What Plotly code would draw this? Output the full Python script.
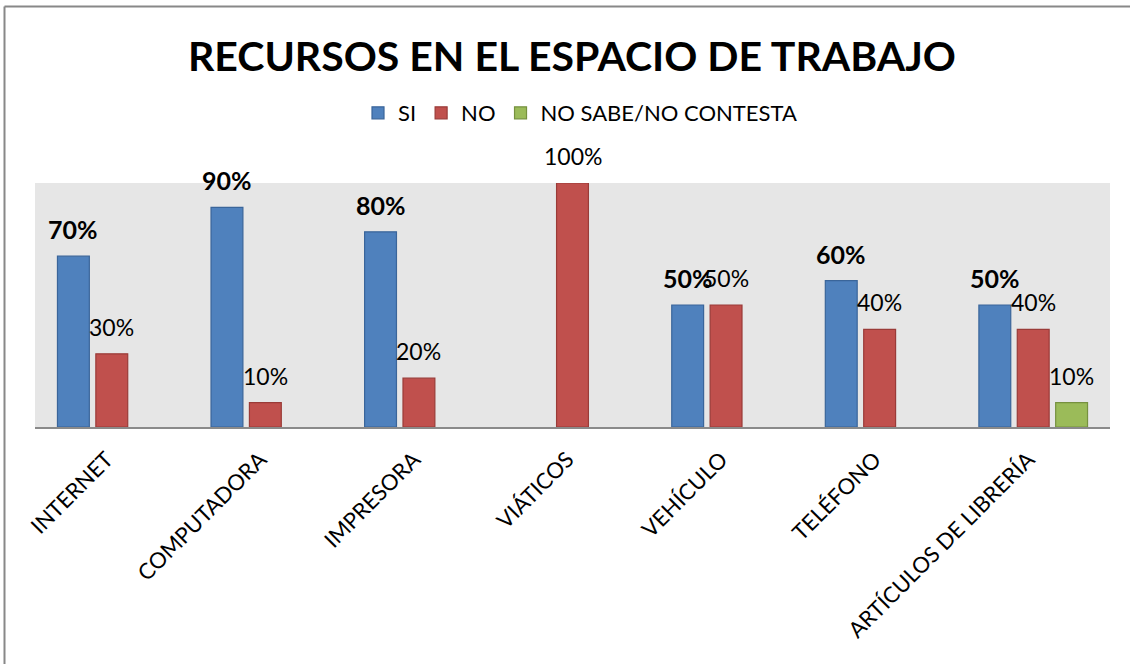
import plotly.graph_objects as go

categories = ["INTERNET", "COMPUTADORA", "IMPRESORA", "VIÁTICOS", "VEHÍCULO", "TELÉFONO", "ARTÍCULOS DE LIBRERÍA"]
si_values = [70, 90, 80, None, 50, 60, 50]
no_values = [30, 10, 20, 100, 50, 40, 40]
ns_values = [None, None, None, None, None, None, 10]
series_names = ["SI", "NO", "NO SABE/NO CONTESTA"]

W, H = 1130, 664
ML, MR, MT, MB = 35, 20, 183, 237
PW = W - ML - MR
PH = H - MT - MB

def px_x(p):
    return (p - ML) / PW

def px_y(p):
    return (H - MB - p) / PH

FONT = "Lato"
colors = ["#4F81BD", "#C0504D", "#9BBB59"]
edges = ["#3A659A", "#9A3B38", "#76913F"]
all_values = [si_values, no_values, ns_values]

fig = go.Figure()
for name, vals, c, e in zip(series_names, all_values, colors, edges):
    fig.add_trace(go.Bar(
        x=categories, y=vals, name=name,
        marker=dict(color=c, line=dict(color=e, width=1.2)),
        hoverinfo="skip",
    ))

slot = PW / len(categories) * 0.25
shifts = [-slot, 0, slot]
for si, vals in enumerate(all_values):
    for cat, v in zip(categories, vals):
        if v is None:
            continue
        bold = si == 0
        fig.add_annotation(
            x=cat, y=v, xref="x", yref="y",
            text=(f"<b>{v}%</b>" if bold else f"{v}%"),
            showarrow=False, xshift=shifts[si], yshift=27,
            xanchor="center", yanchor="middle",
            font=dict(family=FONT, size=25 if bold else 23, color="#000000"),
        )

fig.update_layout(
    width=W, height=H,
    margin=dict(l=ML, r=MR, t=MT, b=MB),
    paper_bgcolor="#FFFFFF",
    plot_bgcolor="#E6E6E6",
    barmode="group",
    bargap=0.25,
    bargroupgap=0.17,
    title=dict(
        text="<b>RECURSOS EN EL ESPACIO DE TRABAJO</b>",
        x=px_x(572), xref="paper", xanchor="center",
        y=1 - 57 / H, yref="container", yanchor="middle",
        font=dict(family=FONT, size=41, color="#000000"),
    ),
    legend=dict(
        orientation="h", x=px_x(580), xanchor="center",
        y=px_y(113), yanchor="middle",
        font=dict(family=FONT, size=22, color="#000000"),
        bgcolor="rgba(0,0,0,0)", itemwidth=30,
    ),
    xaxis=dict(
        tickangle=-45, showgrid=False, showline=True,
        linecolor="#8A8A8A", linewidth=2, ticks="",
        tickfont=dict(family=FONT, size=22, color="#000000"),
        ticklabelstandoff=9, ticklabelshift=-5,
        fixedrange=True,
    ),
    yaxis=dict(
        range=[0, 100], showgrid=False, showticklabels=False,
        zeroline=False, showline=False, fixedrange=True,
    ),
    shapes=[
        dict(type="line", xref="paper", yref="paper",
             x0=px_x(4.5), x1=px_x(1135), y0=px_y(6.5), y1=px_y(6.5),
             line=dict(color="#888888", width=2)),
        dict(type="line", xref="paper", yref="paper",
             x0=px_x(4.5), x1=px_x(4.5), y0=px_y(6.5), y1=px_y(670),
             line=dict(color="#888888", width=2)),
    ],
)

fig.write_html(
    "out.html",
    config={"displayModeBar": False},
    post_script="document.body.style.margin='0';document.body.style.overflow='hidden';",
)
